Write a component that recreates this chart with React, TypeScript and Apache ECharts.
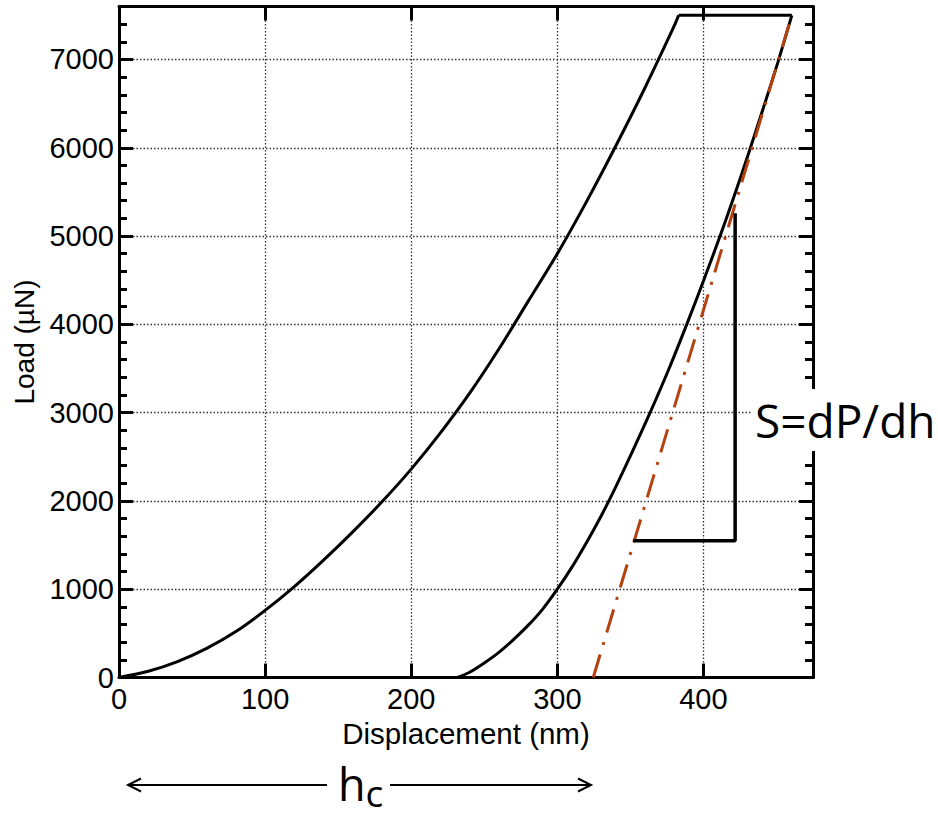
import React, { useEffect, useRef } from "react";
import * as echarts from "echarts";

// Loading segment (displacement nm, load µN)
const loadingDisp = [0, 20, 40, 60, 80, 100, 120, 140, 160, 180, 200, 220, 240, 260, 280, 300, 320, 340, 360, 380, 383];
const loadingLoad = [0, 70, 180, 330, 520, 760, 1030, 1330, 1650, 1990, 2360, 2770, 3220, 3720, 4260, 4800, 5390, 6020, 6680, 7380, 7500];

// Hold segment at peak load
const holdDisp = [383, 460.5];
const holdLoad = [7500, 7500];

// Unloading segment
const unloadDisp = [231.5, 240, 250, 260, 270, 280, 290, 300, 310, 320, 330, 340, 350, 363.5, 376, 388.6, 400, 411.4, 421, 431, 441, 451, 460.5];
const unloadLoad = [0, 60, 165, 285, 430, 590, 775, 1000, 1250, 1530, 1830, 2160, 2510, 3000, 3480, 4000, 4490, 5000, 5450, 5940, 6450, 6970, 7500];

// Tangent (stiffness) line
const tangentDisp = [324.6, 460.5];
const tangentLoad = [0, 7500];

// Slope triangle
const triangleDisp = [352, 421.7, 421.7];
const triangleLoad = [1549, 1549, 5257];

const xTicks = [0, 100, 200, 300, 400];
const yTicks = [0, 1000, 2000, 3000, 4000, 5000, 6000, 7000];

const X_MAX = 475;
const Y_MAX = 7600;

const pair = (xs: number[], ys: number[]) => xs.map((x, i) => [x, ys[i]]);

export default function App() {
  const ref = useRef<HTMLDivElement>(null);
  useEffect(() => {
    if (!ref.current) return;
    const chart = echarts.init(ref.current, null, { renderer: "svg" });
    const labelFont = '"Liberation Sans", Arial, sans-serif';
    const annFont = '"Open Sans", "Noto Sans", sans-serif';
    const split = { show: true, lineStyle: { color: "#333", width: 1.3, type: [1.5, 2] as any } };
    const xBase = {
      type: "value" as const,
      min: 0,
      max: X_MAX,
      interval: 100,
      axisLine: { show: true, onZero: false, lineStyle: { color: "#000", width: 3 } },
      axisTick: { show: true, inside: true, length: 14, lineStyle: { color: "#000", width: 3 } },
    };
    const yBase = {
      type: "value" as const,
      min: 0,
      max: Y_MAX,
      interval: 1000,
      axisLine: { show: true, onZero: false, lineStyle: { color: "#000", width: 3 } },
      axisTick: { show: true, inside: true, length: 14, lineStyle: { color: "#000", width: 3 } },
      minorTick: { show: true, splitNumber: 5, length: 8, lineStyle: { color: "#000", width: 3 } },
    };
    const lineSeries = (name: string, data: number[][], extra: any = {}) => ({
      name,
      type: "line",
      data,
      showSymbol: false,
      symbol: "none",
      smooth: 0.3,
      lineStyle: { color: "#000", width: 3 },
      z: 5,
      ...extra,
    });
    chart.setOption({
      animation: false,
      backgroundColor: "#fff",
      grid: { left: 119, right: 125, top: 6.5, bottom: 137.5, show: false },
      xAxis: [
        {
          ...xBase,
          position: "bottom",
          name: "Displacement (nm)",
          nameLocation: "middle",
          nameGap: 36,
          nameTextStyle: { fontSize: 29.5, color: "#000", fontFamily: labelFont },
          axisLabel: {
            show: true,
            fontSize: 29,
            color: "#000",
            fontFamily: labelFont,
            margin: 7,
            showMaxLabel: false,
            formatter: (v: number) => (xTicks.includes(v) ? String(v) : ""),
          },
          splitLine: split,
        },
        {
          ...xBase,
          position: "top",
          axisLabel: { show: false },
          splitLine: { show: false },
        },
      ],
      yAxis: [
        {
          ...yBase,
          position: "left",
          name: "Load (µN)",
          nameLocation: "middle",
          nameGap: 76,
          nameTextStyle: { fontSize: 28, color: "#000", fontFamily: labelFont },
          axisLabel: {
            show: true,
            fontSize: 29,
            color: "#000",
            fontFamily: labelFont,
            margin: 5,
            showMaxLabel: false,
            formatter: (v: number) => (yTicks.includes(v) ? String(v) : ""),
          },
          splitLine: split,
        },
        {
          ...yBase,
          position: "right",
          axisLabel: { show: false },
          splitLine: { show: false },
        },
      ],
      series: [
        lineSeries("Loading", pair(loadingDisp, loadingLoad)),
        lineSeries("Hold", pair(holdDisp, holdLoad), { smooth: false }),
        lineSeries("Unloading", pair(unloadDisp, unloadLoad)),
        lineSeries("Tangent", pair(tangentDisp, tangentLoad), {
          smooth: false,
          lineStyle: { color: "#b4410f", width: 3, type: [24, 10, 3, 10] },
          z: 6,
        }),
        lineSeries("Slope", pair(triangleDisp, triangleLoad), {
          smooth: false,
          lineStyle: { color: "#000", width: 3.5 },
          z: 6,
        }),
      ],
      graphic: [
        {
          type: "text",
          x: 751,
          y: 420,
          z: 100,
          style: {
            text: "S=dP/dh",
            font: "46px " + annFont,
            fill: "#000",
            align: "left",
            verticalAlign: "middle",
            backgroundColor: "#fff",
            padding: [8, 4, 8, 4],
          },
        },
        {
          type: "line",
          shape: { x1: 128, y1: 785, x2: 327, y2: 785 },
          style: { stroke: "#000", lineWidth: 2 },
        },
        {
          type: "polyline",
          shape: { points: [[141, 778.5], [128, 785], [141, 791.5]] },
          style: { stroke: "#000", lineWidth: 2, fill: "none" },
        },
        {
          type: "line",
          shape: { x1: 390, y1: 785, x2: 591, y2: 785 },
          style: { stroke: "#000", lineWidth: 2 },
        },
        {
          type: "polyline",
          shape: { points: [[578, 778.5], [591, 785], [578, 791.5]] },
          style: { stroke: "#000", lineWidth: 2, fill: "none" },
        },
        {
          type: "text",
          x: 338,
          y: 761,
          style: {
            text: "{h|h}{c|c}",
            align: "left",
            verticalAlign: "top",
            fill: "#000",
            rich: {
              h: { fontSize: 45, fontFamily: annFont, color: "#000", lineHeight: 44, verticalAlign: "top" },
              c: {
                fontSize: 37,
                fontFamily: annFont,
                color: "#000",
                lineHeight: 26,
                padding: [13, 0, 0, 0],
                verticalAlign: "top",
              },
            },
          },
        },
      ],
    });
    return () => chart.dispose();
  }, []);
  return (
    <div
      ref={ref}
      style={{ position: "fixed", left: 0, top: 0, width: 938, height: 815, background: "#fff" }}
    />
  );
}
